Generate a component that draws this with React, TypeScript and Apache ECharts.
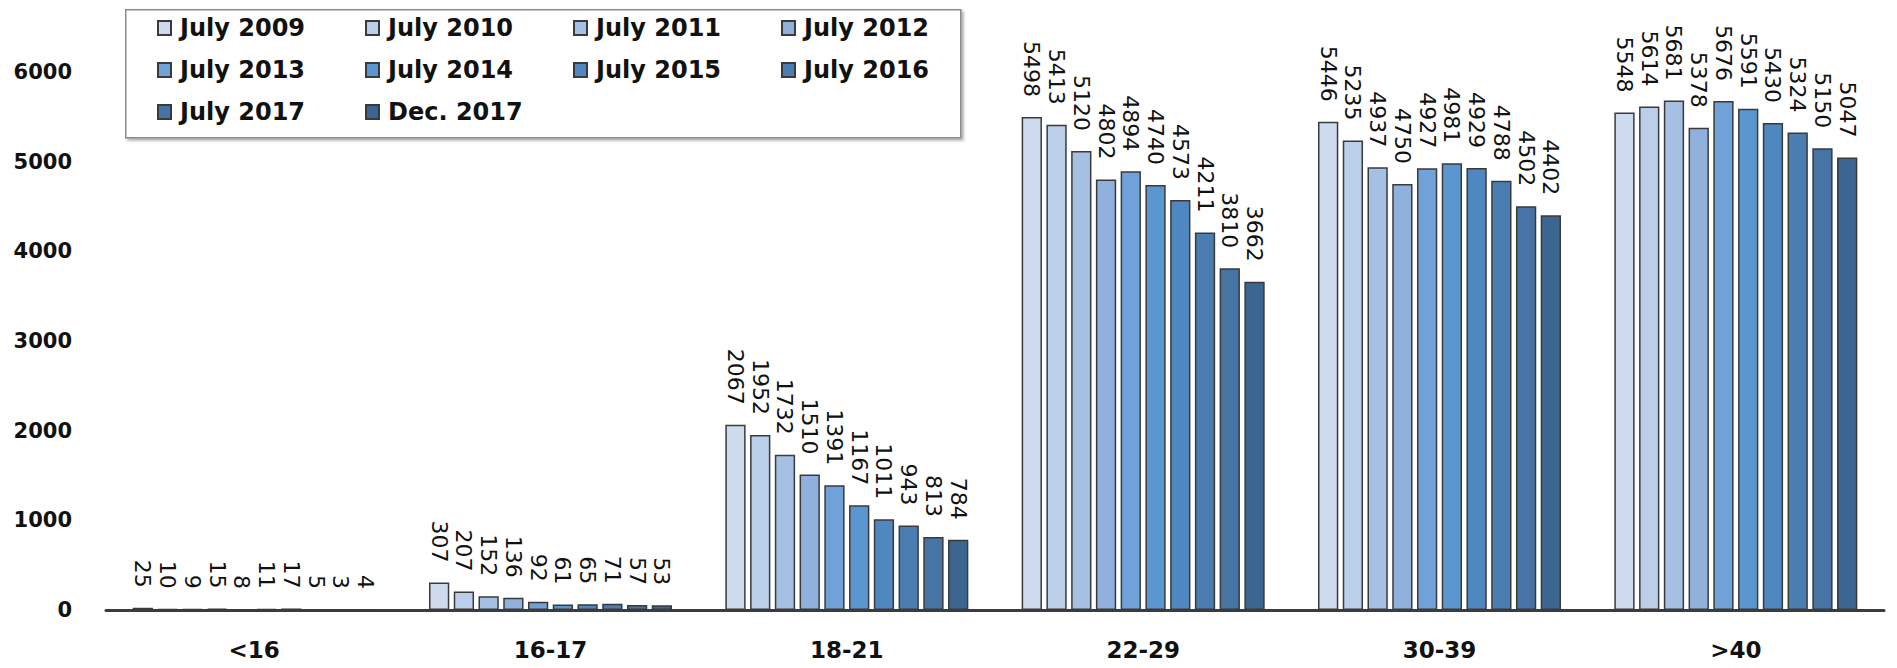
import React, { useEffect, useRef } from "react";
import * as echarts from "echarts";

const categories = ["<16", "16-17", "18-21", "22-29", "30-39", ">40"];
const seriesNames = [
  "July 2009", "July 2010", "July 2011", "July 2012", "July 2013",
  "July 2014", "July 2015", "July 2016", "July 2017", "Dec. 2017",
];
const july2009 = [25, 307, 2067, 5498, 5446, 5548];
const july2010 = [10, 207, 1952, 5413, 5235, 5614];
const july2011 = [9, 152, 1732, 5120, 4937, 5681];
const july2012 = [15, 136, 1510, 4802, 4750, 5378];
const july2013 = [8, 92, 1391, 4894, 4927, 5676];
const july2014 = [11, 61, 1167, 4740, 4981, 5591];
const july2015 = [17, 65, 1011, 4573, 4929, 5430];
const july2016 = [5, 71, 943, 4211, 4788, 5324];
const july2017 = [3, 57, 813, 3810, 4502, 5150];
const dec2017 = [4, 53, 784, 3662, 4402, 5047];
const seriesValues = [
  july2009, july2010, july2011, july2012, july2013,
  july2014, july2015, july2016, july2017, dec2017,
];
const colors = [
  "#cedbef", "#bccfea", "#a6c0e4", "#90b1dc", "#70a1d8",
  "#5a96cf", "#4f87c1", "#4a7eb3", "#4574a5", "#3c6690",
];
const yMin = 0;
const yMax = 6000;
const yStep = 1000;

export default function App() {
  const ref = useRef<HTMLDivElement>(null);
  useEffect(() => {
    if (!ref.current) return;
    const chart = echarts.init(ref.current, undefined, { renderer: "svg" });
    const series = seriesNames.map((name, i) => ({
      name,
      type: "bar" as const,
      data: seriesValues[i],
      barGap: "22%",
      barCategoryGap: "18%",
      itemStyle: { color: colors[i], borderColor: "#3a3a3a", borderWidth: 1.5 },
      label: {
        show: true,
        position: "top",
        rotate: -90,
        align: "right",
        verticalAlign: "middle",
        distance: 20,
        fontFamily: "DejaVu Sans",
        fontSize: 22,
        color: "#111",
      },
    }));
    chart.setOption({
      animation: false,
      backgroundColor: "#ffffff",
      grid: { left: 106, right: 13, top: 72, bottom: 58 },
      legend: {
        data: seriesNames,
        left: 157,
        top: 13,
        width: 830,
        padding: 0,
        itemGap: 12,
        itemWidth: 13,
        itemHeight: 14,
        icon: "rect",
        textStyle: {
          fontFamily: "DejaVu Sans",
          fontWeight: "bold",
          fontSize: 24,
          color: "#111",
          width: 173,
          padding: [0, 0, 0, 4],
          lineHeight: 30,
        },
      },
      graphic: [
        {
          type: "rect",
          left: 125,
          top: 9,
          z: -1,
          shape: { width: 835, height: 128 },
          style: {
            fill: "#fff",
            stroke: "#8a8a8a",
            lineWidth: 1.5,
            shadowColor: "rgba(0,0,0,0.35)",
            shadowBlur: 3,
            shadowOffsetX: 2,
            shadowOffsetY: 2,
          },
        },
      ],
      xAxis: {
        type: "category",
        data: categories,
        axisTick: { show: false },
        axisLine: { lineStyle: { color: "#3c3c3c", width: 3 } },
        axisLabel: {
          margin: 28,
          fontFamily: "DejaVu Sans",
          fontWeight: "bold",
          fontSize: 23,
          color: "#111",
        },
      },
      yAxis: {
        type: "value",
        min: yMin,
        max: yMax,
        interval: yStep,
        splitLine: { show: false },
        axisLine: { show: false },
        axisTick: { show: false },
        axisLabel: {
          margin: 34,
          fontFamily: "DejaVu Sans",
          fontWeight: "bold",
          fontSize: 21,
          color: "#111",
          formatter: (v: number) => String(v),
        },
      },
      series,
    });
    return () => chart.dispose();
  }, []);
  return (
    <div
      ref={ref}
      style={{ position: "absolute", left: 0, top: 0, width: 1897, height: 668 }}
    />
  );
}
